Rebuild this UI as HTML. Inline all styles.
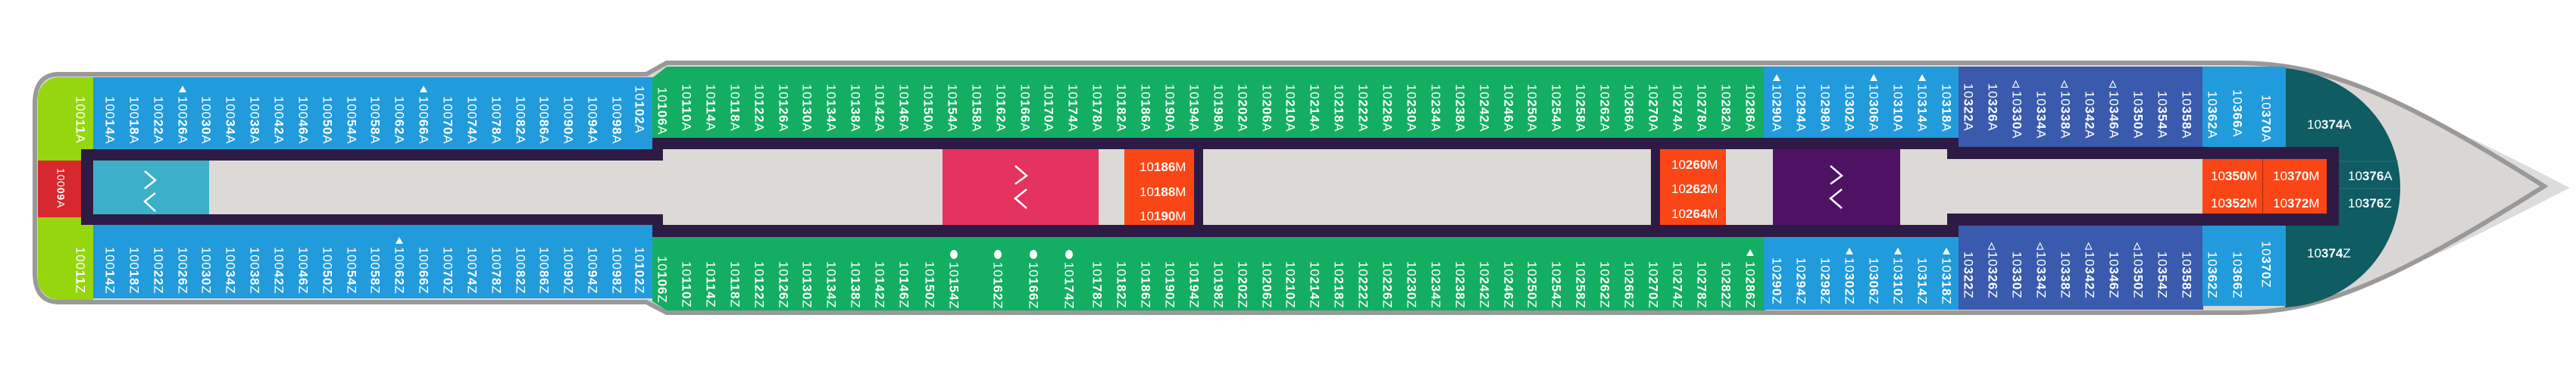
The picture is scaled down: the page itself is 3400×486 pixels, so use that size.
<!DOCTYPE html>
<html><head><meta charset="utf-8">
<style>
*{margin:0;padding:0;box-sizing:border-box}
body{width:3400px;height:486px;background:#fff;position:relative;overflow:hidden;font-family:"Liberation Sans",sans-serif}
.r{position:absolute}
i{position:absolute;writing-mode:vertical-rl;font-style:normal;font-size:17px;line-height:17px;margin-left:-8.5px;color:#fff;letter-spacing:0.8px;white-space:nowrap}
i b,.h b{font-weight:bold}
.h{position:absolute;color:#fff;font-size:17px;line-height:17px;white-space:nowrap}
.t{position:absolute;width:0;height:0;border-left:5px solid transparent;border-right:5px solid transparent;border-bottom:9px solid #fff;margin-left:-5px}
.o{position:absolute;color:#fff;font-size:12px;line-height:12px;margin-left:-6px;font-weight:bold}
.c{position:absolute;width:10px;height:12px;border-radius:50%;background:#fff;margin-left:-5px}
</style></head><body>
<svg class="r" style="left:0;top:0" width="3400" height="486">
<path d="M2950,90 C3100,100 3200,150 3392,248 C3200,346 3100,400 2950,410 Z" fill="#dcdcdc"/>
<path d="M78,98 L853,98 L880,83 L2950,83 C3060,83 3150,115 3358,246 C3150,377 3060,413 2950,413 L880,413 L853,399 L78,399 Q46,399 46,360 L46,137 Q46,98 78,98 Z" fill="#d9d6d4" stroke="#999" stroke-width="6"/>
<path d="M3016,90 C3110,100 3168,170 3168,248 C3168,326 3110,400 3016,406 Z" fill="#0f5c63"/>
<line x1="3087" y1="213" x2="3165" y2="213" stroke="#2a7077" stroke-width="1"/>
<line x1="3087" y1="249" x2="3168" y2="249" stroke="#2a7077" stroke-width="1"/>
</svg>
<!-- stern -->
<div class="r" style="left:50px;top:102px;width:73px;height:294px;background:#96d60e;border-radius:28px 0 0 28px"></div>
<div class="r" style="left:50px;top:212px;width:59px;height:75px;background:#d6282e"></div>
<div class="r" style="left:123px;top:102px;width:740px;height:95px;background:#219bdc"></div>
<div class="r" style="left:123px;top:297px;width:740px;height:97px;background:#219bdc"></div>
<!-- mid green -->
<div class="r" style="left:861px;top:88px;width:1469px;height:94px;background:#13ae62;clip-path:polygon(0 15px,19px 0,100% 0,100% 100%,0 100%)"></div>
<div class="r" style="left:861px;top:313px;width:1469px;height:97px;background:#13ae62;clip-path:polygon(0 0,100% 0,100% 100%,19px 100%,0 calc(100% - 12px))"></div>
<!-- bow cabins -->
<div class="r" style="left:2328px;top:88px;width:257px;height:94px;background:#219bdc"></div>
<div class="r" style="left:2328px;top:313px;width:257px;height:96px;background:#219bdc"></div>
<div class="r" style="left:2585px;top:88px;width:323px;height:107px;background:#3a5aad"></div>
<div class="r" style="left:2585px;top:298px;width:323px;height:111px;background:#3a5aad"></div>
<div class="r" style="left:2907px;top:88px;width:110px;height:107px;background:#219bdc"></div>
<div class="r" style="left:2907px;top:298px;width:110px;height:106px;background:#219bdc"></div>
<!-- corridors -->
<div class="r" style="left:107px;top:197px;width:760px;height:100px;background:#2e1b45"></div>
<div class="r" style="left:861px;top:182px;width:1724px;height:131px;background:#2e1b45"></div>
<div class="r" style="left:2570px;top:194px;width:517px;height:104px;background:#2e1b45"></div>
<div class="r" style="left:875px;top:197px;width:1695px;height:100px;background:#dcd9d7"></div>
<div class="r" style="left:123px;top:212px;width:752px;height:71px;background:#dcd9d7"></div>
<div class="r" style="left:2570px;top:210px;width:337px;height:72px;background:#dcd9d7"></div>
<div class="r" style="left:123px;top:212px;width:153px;height:71px;background:#3cb0c9"></div>
<div class="r" style="left:1244px;top:197px;width:206px;height:100px;background:#e5335f"></div>
<div class="r" style="left:1484px;top:197px;width:92px;height:100px;background:#fa4616"></div>
<div class="r" style="left:1576px;top:197px;width:12px;height:100px;background:#2e1b45"></div>
<div class="r" style="left:2179px;top:197px;width:12px;height:100px;background:#2e1b45"></div>
<div class="r" style="left:2191px;top:197px;width:87px;height:100px;background:#fa4616"></div>
<div class="r" style="left:2340px;top:197px;width:168px;height:100px;background:#4e1163"></div>
<div class="r" style="left:2907px;top:210px;width:164px;height:72px;background:#fa4616"></div>
<div class="r" style="left:2986px;top:210px;width:1px;height:72px;background:#a02a10"></div>
<svg class="r" style="left:0;top:0" width="3400" height="486" fill="none" stroke="#fff" stroke-width="2.5">
<polyline points="191,226 205,238 191,249"/><polyline points="205,255 191,266 205,279"/>
<polyline points="1340,219 1355,232 1340,243"/><polyline points="1355,250 1340,262 1355,275"/>
<polyline points="2416,219 2431,232 2416,243"/><polyline points="2431,250 2416,262 2431,275"/>
</svg>
<!-- horizontal labels -->
<div class="h" style="left:1504px;top:212px">10<b>186</b>M</div>
<div class="h" style="left:1504px;top:245px">10<b>188</b>M</div>
<div class="h" style="left:1504px;top:277px">10<b>190</b>M</div>
<div class="h" style="left:2206px;top:209px">10<b>260</b>M</div>
<div class="h" style="left:2206px;top:241px">10<b>262</b>M</div>
<div class="h" style="left:2206px;top:274px">10<b>264</b>M</div>
<div class="h" style="left:2918px;top:224px">10<b>350</b>M</div>
<div class="h" style="left:3000px;top:224px">10<b>370</b>M</div>
<div class="h" style="left:2918px;top:260px">10<b>352</b>M</div>
<div class="h" style="left:3000px;top:260px">10<b>372</b>M</div>
<div class="h" style="left:3045px;top:156px">10<b>374</b>A</div>
<div class="h" style="left:3099px;top:224px">10<b>376</b>A</div>
<div class="h" style="left:3099px;top:260px">10<b>376</b>Z</div>
<div class="h" style="left:3045px;top:326px">10<b>374</b>Z</div>
<i style="left:80px;top:222px;font-size:14px">100<b>09</b>A</i>
<!-- stern labels A -->
<i style="left:106px;top:127px">100<b>11</b>A</i>
<i style="left:145px;top:127px">100<b>14</b>A</i>
<i style="left:177px;top:127px">100<b>18</b>A</i>
<i style="left:209px;top:127px">100<b>22</b>A</i>
<i style="left:241px;top:127px">100<b>26</b>A</i>
<i style="left:272px;top:127px">100<b>30</b>A</i>
<i style="left:304px;top:127px">100<b>34</b>A</i>
<i style="left:336px;top:127px">100<b>38</b>A</i>
<i style="left:368px;top:127px">100<b>42</b>A</i>
<i style="left:400px;top:127px">100<b>46</b>A</i>
<i style="left:432px;top:127px">100<b>50</b>A</i>
<i style="left:464px;top:127px">100<b>54</b>A</i>
<i style="left:495px;top:127px">100<b>58</b>A</i>
<i style="left:527px;top:127px">100<b>62</b>A</i>
<i style="left:559px;top:127px">100<b>66</b>A</i>
<i style="left:591px;top:127px">100<b>70</b>A</i>
<i style="left:623px;top:127px">100<b>74</b>A</i>
<i style="left:655px;top:127px">100<b>78</b>A</i>
<i style="left:687px;top:127px">100<b>82</b>A</i>
<i style="left:718px;top:127px">100<b>86</b>A</i>
<i style="left:750px;top:127px">100<b>90</b>A</i>
<i style="left:782px;top:127px">100<b>94</b>A</i>
<i style="left:814px;top:127px">100<b>98</b>A</i>
<i style="left:844px;top:113px">10<b>102</b>A</i>
<div class="t" style="left:241px;top:113px"></div>
<div class="t" style="left:559px;top:113px"></div>
<!-- stern labels Z -->
<i style="left:106px;top:326px">100<b>11</b>Z</i>
<i style="left:145px;top:326px">100<b>14</b>Z</i>
<i style="left:177px;top:326px">100<b>18</b>Z</i>
<i style="left:209px;top:326px">100<b>22</b>Z</i>
<i style="left:241px;top:326px">100<b>26</b>Z</i>
<i style="left:272px;top:326px">100<b>30</b>Z</i>
<i style="left:304px;top:326px">100<b>34</b>Z</i>
<i style="left:336px;top:326px">100<b>38</b>Z</i>
<i style="left:368px;top:326px">100<b>42</b>Z</i>
<i style="left:400px;top:326px">100<b>46</b>Z</i>
<i style="left:432px;top:326px">100<b>50</b>Z</i>
<i style="left:464px;top:326px">100<b>54</b>Z</i>
<i style="left:495px;top:326px">100<b>58</b>Z</i>
<i style="left:527px;top:326px">100<b>62</b>Z</i>
<i style="left:559px;top:326px">100<b>66</b>Z</i>
<i style="left:591px;top:326px">100<b>70</b>Z</i>
<i style="left:623px;top:326px">100<b>74</b>Z</i>
<i style="left:655px;top:326px">100<b>78</b>Z</i>
<i style="left:687px;top:326px">100<b>82</b>Z</i>
<i style="left:718px;top:326px">100<b>86</b>Z</i>
<i style="left:750px;top:326px">100<b>90</b>Z</i>
<i style="left:782px;top:326px">100<b>94</b>Z</i>
<i style="left:814px;top:326px">100<b>98</b>Z</i>
<i style="left:844px;top:326px">10<b>102</b>Z</i>
<div class="t" style="left:527px;top:313px"></div>
<!-- mid A -->
<i style="left:874px;top:115px">10<b>106</b>A</i>
<i style="left:906px;top:111px">10<b>110</b>A</i>
<i style="left:938px;top:111px">10<b>114</b>A</i>
<i style="left:970px;top:111px">10<b>118</b>A</i>
<i style="left:1002px;top:111px">10<b>122</b>A</i>
<i style="left:1034px;top:111px">10<b>126</b>A</i>
<i style="left:1065px;top:111px">10<b>130</b>A</i>
<i style="left:1097px;top:111px">10<b>134</b>A</i>
<i style="left:1129px;top:111px">10<b>138</b>A</i>
<i style="left:1161px;top:111px">10<b>142</b>A</i>
<i style="left:1193px;top:111px">10<b>146</b>A</i>
<i style="left:1225px;top:111px">10<b>150</b>A</i>
<i style="left:1257px;top:111px">10<b>154</b>A</i>
<i style="left:1289px;top:111px">10<b>158</b>A</i>
<i style="left:1321px;top:111px">10<b>162</b>A</i>
<i style="left:1353px;top:111px">10<b>166</b>A</i>
<i style="left:1384px;top:111px">10<b>170</b>A</i>
<i style="left:1416px;top:111px">10<b>174</b>A</i>
<i style="left:1448px;top:111px">10<b>178</b>A</i>
<i style="left:1480px;top:111px">10<b>182</b>A</i>
<i style="left:1512px;top:111px">10<b>186</b>A</i>
<i style="left:1544px;top:111px">10<b>190</b>A</i>
<i style="left:1576px;top:111px">10<b>194</b>A</i>
<i style="left:1608px;top:111px">10<b>198</b>A</i>
<i style="left:1640px;top:111px">10<b>202</b>A</i>
<i style="left:1672px;top:111px">10<b>206</b>A</i>
<i style="left:1703px;top:111px">10<b>210</b>A</i>
<i style="left:1735px;top:111px">10<b>214</b>A</i>
<i style="left:1767px;top:111px">10<b>218</b>A</i>
<i style="left:1799px;top:111px">10<b>222</b>A</i>
<i style="left:1831px;top:111px">10<b>226</b>A</i>
<i style="left:1863px;top:111px">10<b>230</b>A</i>
<i style="left:1895px;top:111px">10<b>234</b>A</i>
<i style="left:1927px;top:111px">10<b>238</b>A</i>
<i style="left:1959px;top:111px">10<b>242</b>A</i>
<i style="left:1991px;top:111px">10<b>246</b>A</i>
<i style="left:2022px;top:111px">10<b>250</b>A</i>
<i style="left:2054px;top:111px">10<b>254</b>A</i>
<i style="left:2086px;top:111px">10<b>258</b>A</i>
<i style="left:2118px;top:111px">10<b>262</b>A</i>
<i style="left:2150px;top:111px">10<b>266</b>A</i>
<i style="left:2182px;top:111px">10<b>270</b>A</i>
<i style="left:2214px;top:111px">10<b>274</b>A</i>
<i style="left:2246px;top:111px">10<b>278</b>A</i>
<i style="left:2278px;top:111px">10<b>282</b>A</i>
<i style="left:2310px;top:111px">10<b>286</b>A</i>
<!-- mid Z -->
<i style="left:874px;top:338px">10<b>106</b>Z</i>
<i style="left:906px;top:345px">10<b>110</b>Z</i>
<i style="left:938px;top:345px">10<b>114</b>Z</i>
<i style="left:970px;top:345px">10<b>118</b>Z</i>
<i style="left:1002px;top:345px">10<b>122</b>Z</i>
<i style="left:1034px;top:345px">10<b>126</b>Z</i>
<i style="left:1065px;top:345px">10<b>130</b>Z</i>
<i style="left:1097px;top:345px">10<b>134</b>Z</i>
<i style="left:1129px;top:345px">10<b>138</b>Z</i>
<i style="left:1161px;top:345px">10<b>142</b>Z</i>
<i style="left:1193px;top:345px">10<b>146</b>Z</i>
<i style="left:1227px;top:345px">10<b>150</b>Z</i>
<i style="left:1259px;top:346px">10<b>154</b>Z</i>
<i style="left:1317px;top:346px">10<b>162</b>Z</i>
<i style="left:1364px;top:346px">10<b>166</b>Z</i>
<i style="left:1411px;top:346px">10<b>174</b>Z</i>
<i style="left:1448px;top:345px">10<b>178</b>Z</i>
<i style="left:1480px;top:345px">10<b>182</b>Z</i>
<i style="left:1512px;top:345px">10<b>186</b>Z</i>
<i style="left:1544px;top:345px">10<b>190</b>Z</i>
<i style="left:1576px;top:345px">10<b>194</b>Z</i>
<i style="left:1608px;top:345px">10<b>198</b>Z</i>
<i style="left:1640px;top:345px">10<b>202</b>Z</i>
<i style="left:1672px;top:345px">10<b>206</b>Z</i>
<i style="left:1703px;top:345px">10<b>210</b>Z</i>
<i style="left:1735px;top:345px">10<b>214</b>Z</i>
<i style="left:1767px;top:345px">10<b>218</b>Z</i>
<i style="left:1799px;top:345px">10<b>222</b>Z</i>
<i style="left:1831px;top:345px">10<b>226</b>Z</i>
<i style="left:1863px;top:345px">10<b>230</b>Z</i>
<i style="left:1895px;top:345px">10<b>234</b>Z</i>
<i style="left:1927px;top:345px">10<b>238</b>Z</i>
<i style="left:1959px;top:345px">10<b>242</b>Z</i>
<i style="left:1991px;top:345px">10<b>246</b>Z</i>
<i style="left:2022px;top:345px">10<b>250</b>Z</i>
<i style="left:2054px;top:345px">10<b>254</b>Z</i>
<i style="left:2086px;top:345px">10<b>258</b>Z</i>
<i style="left:2118px;top:345px">10<b>262</b>Z</i>
<i style="left:2150px;top:345px">10<b>266</b>Z</i>
<i style="left:2182px;top:345px">10<b>270</b>Z</i>
<i style="left:2214px;top:345px">10<b>274</b>Z</i>
<i style="left:2246px;top:345px">10<b>278</b>Z</i>
<i style="left:2278px;top:345px">10<b>282</b>Z</i>
<i style="left:2310px;top:345px">10<b>286</b>Z</i>
<div class="c" style="left:1259px;top:330px"></div>
<div class="c" style="left:1317px;top:330px"></div>
<div class="c" style="left:1364px;top:330px"></div>
<div class="c" style="left:1411px;top:330px"></div>
<div class="t" style="left:2310px;top:329px"></div>
<!-- bow A -->
<i style="left:2345px;top:111px">10<b>290</b>A</i>
<i style="left:2377px;top:111px">10<b>294</b>A</i>
<i style="left:2409px;top:111px">10<b>298</b>A</i>
<i style="left:2441px;top:111px">10<b>302</b>A</i>
<i style="left:2473px;top:111px">10<b>306</b>A</i>
<i style="left:2505px;top:111px">10<b>310</b>A</i>
<i style="left:2537px;top:111px">10<b>314</b>A</i>
<i style="left:2569px;top:111px">10<b>318</b>A</i>
<div class="t" style="left:2345px;top:98px"></div>
<div class="t" style="left:2473px;top:98px"></div>
<div class="t" style="left:2537px;top:98px"></div>
<i style="left:2598px;top:110px">10<b>322</b>A</i>
<i style="left:2630px;top:110px">10<b>326</b>A</i>
<i style="left:2662px;top:120px">10<b>330</b>A</i>
<i style="left:2694px;top:120px">10<b>334</b>A</i>
<i style="left:2726px;top:120px">10<b>338</b>A</i>
<i style="left:2758px;top:120px">10<b>342</b>A</i>
<i style="left:2790px;top:120px">10<b>346</b>A</i>
<i style="left:2822px;top:120px">10<b>350</b>A</i>
<i style="left:2854px;top:120px">10<b>354</b>A</i>
<i style="left:2886px;top:120px">10<b>358</b>A</i>
<div class="o" style="left:2662px;top:104px">△</div>
<div class="o" style="left:2726px;top:104px">△</div>
<div class="o" style="left:2790px;top:104px">△</div>
<i style="left:2920px;top:120px">10<b>362</b>A</i>
<i style="left:2953px;top:118px">10<b>366</b>A</i>
<i style="left:2991px;top:125px">10<b>370</b>A</i>
<!-- bow Z -->
<i style="left:2345px;top:340px">10<b>290</b>Z</i>
<i style="left:2377px;top:340px">10<b>294</b>Z</i>
<i style="left:2409px;top:340px">10<b>298</b>Z</i>
<i style="left:2441px;top:340px">10<b>302</b>Z</i>
<i style="left:2473px;top:340px">10<b>306</b>Z</i>
<i style="left:2505px;top:340px">10<b>310</b>Z</i>
<i style="left:2537px;top:340px">10<b>314</b>Z</i>
<i style="left:2569px;top:340px">10<b>318</b>Z</i>
<div class="t" style="left:2441px;top:327px"></div>
<div class="t" style="left:2505px;top:327px"></div>
<div class="t" style="left:2569px;top:327px"></div>
<i style="left:2598px;top:332px">10<b>322</b>Z</i>
<i style="left:2630px;top:332px">10<b>326</b>Z</i>
<i style="left:2662px;top:332px">10<b>330</b>Z</i>
<i style="left:2694px;top:332px">10<b>334</b>Z</i>
<i style="left:2726px;top:332px">10<b>338</b>Z</i>
<i style="left:2758px;top:332px">10<b>342</b>Z</i>
<i style="left:2790px;top:332px">10<b>346</b>Z</i>
<i style="left:2822px;top:332px">10<b>350</b>Z</i>
<i style="left:2854px;top:332px">10<b>354</b>Z</i>
<i style="left:2886px;top:332px">10<b>358</b>Z</i>
<div class="o" style="left:2630px;top:318px">△</div>
<div class="o" style="left:2694px;top:318px">△</div>
<div class="o" style="left:2758px;top:318px">△</div>
<div class="o" style="left:2822px;top:318px">△</div>
<i style="left:2920px;top:332px">10<b>362</b>Z</i>
<i style="left:2953px;top:332px">10<b>366</b>Z</i>
<i style="left:2991px;top:318px">10<b>370</b>Z</i>
</body></html>
